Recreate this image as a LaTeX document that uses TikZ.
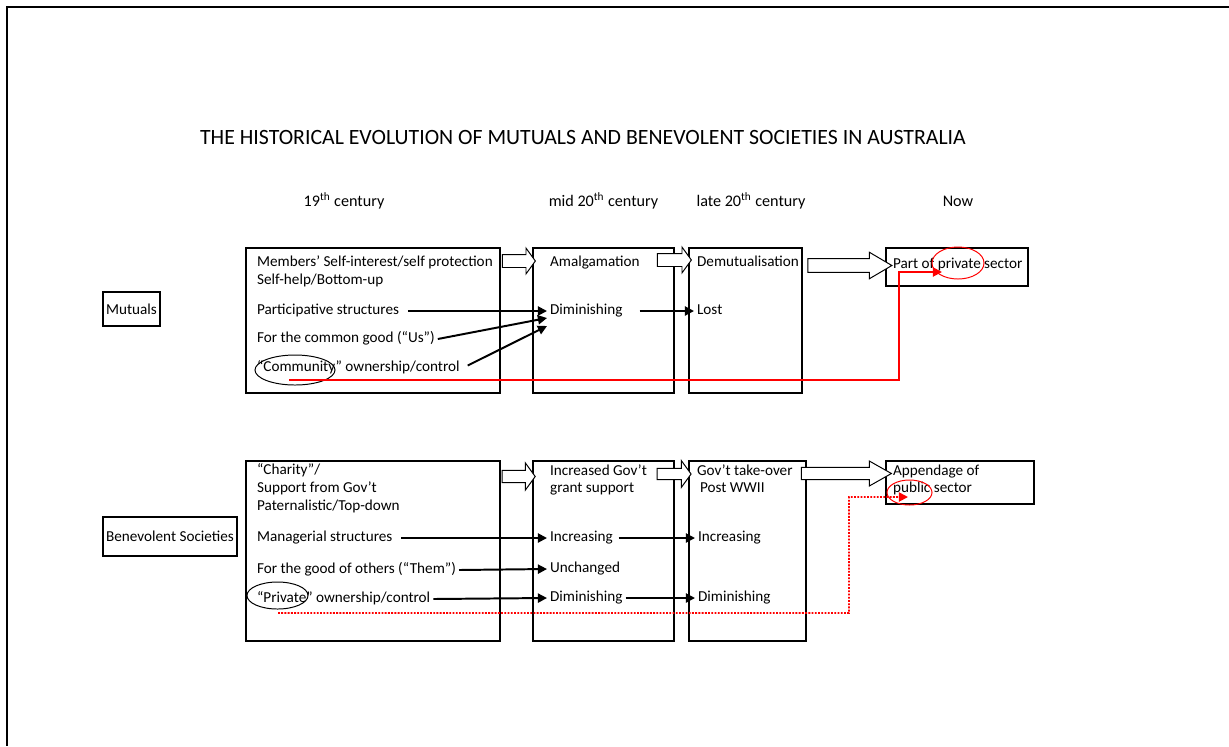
\documentclass[tikz,border=0pt]{standalone}
\usepackage{fontspec}
\setmainfont{Carlito}
\usepackage{xcolor}
\usetikzlibrary{shapes.geometric, shapes.arrows, arrows.meta, positioning, calc}
\definecolor{linkred}{HTML}{FF0000}

\begin{document}
\begin{tikzpicture}[
  x=0.025cm, y=-0.025cm,
  every node/.style={font=\fontsize{10.8}{12.8}\selectfont},
  box/.style={rectangle, draw, line width=0.8pt, inner sep=0pt},
  txt/.style={anchor=west, inner xsep=2pt, inner ysep=0pt,
              text height=1.6ex, text depth=0.5ex},
  hdr/.style={font=\fontsize{11.5}{13}\selectfont},
  blockarrow/.style={single arrow, draw, fill=white, line width=0.7pt,
              inner xsep=0pt, inner ysep=0.15cm, single arrow head extend=0.16cm},
  arrow/.style={-{Triangle[length=6.5pt,width=6.5pt]}, line width=1.4pt},
  ring/.style={ellipse, draw, line width=0.7pt, inner sep=0pt},
  redlink/.style={-{Triangle[length=6.5pt,width=6.5pt]}, draw=linkred, line width=1.3pt},
]
\useasboundingbox (0,0) rectangle (1229,746);
\draw[line width=1.4pt] (1229,7) -- (7,7) -- (7,746);

\node[font=\fontsize{15.5}{18}\selectfont] (title) at (583,137)
  {THE HISTORICAL EVOLUTION OF MUTUALS AND BENEVOLENT SOCIETIES IN AUSTRALIA};

\node[hdr] (H19)   at (344,201) {19\textsuperscript{th} century};
\node[hdr] (Hmid)  at (603.5,201) {mid 20\textsuperscript{th} century};
\node[hdr] (Hlate) at (751,201) {late 20\textsuperscript{th} century};
\node[hdr] (Hnow)  at (958,201) {Now};

% row labels
\node[box, minimum width=1.425cm, minimum height=0.85cm]  (Mut) at (131.5,309) {Mutuals};
\node[box, minimum width=3.35cm,  minimum height=0.975cm] (Ben) at (170,536.5) {Benevolent Societies};

% mutuals boxes
\node[box, minimum width=6.35cm,  minimum height=3.625cm] (M19)   at (373,320.5) {};
\node[box, minimum width=3.525cm, minimum height=3.625cm] (Mmid)  at (603.5,320.5) {};
\node[box, minimum width=2.825cm, minimum height=3.625cm] (Mlate) at (745.5,320.5) {};
\node[box, minimum width=3.55cm,  minimum height=0.95cm]  (Mnow)  at (957,267) {};

% benevolent boxes
\node[box, minimum width=6.35cm,  minimum height=4.5cm]   (B19)   at (373,551) {};
\node[box, minimum width=3.525cm, minimum height=4.5cm]   (Bmid)  at (603.5,551) {};
\node[box, minimum width=2.925cm, minimum height=4.5cm]   (Blate) at (747.5,551) {};
\node[box, minimum width=3.7cm,   minimum height=1.075cm] (Bnow)  at (960,482.5) {};

% hollow arrows between the boxes
\node[blockarrow, single arrow tip angle=108, minimum height=0.825cm] (MA1) at (516.5,261) {};
\node[blockarrow, single arrow tip angle=108, minimum height=0.85cm]  (MA2) at (672,260) {};
\node[blockarrow, single arrow tip angle=61,  minimum height=2.1cm, inner ysep=0.16cm] (MA3) at (844,265.5) {};
\node[blockarrow, single arrow tip angle=108, minimum height=0.825cm, inner ysep=0.14cm, single arrow head extend=0.19cm] (BA1) at (516.5,476.5) {};
\node[blockarrow, single arrow tip angle=108, minimum height=0.85cm,  inner ysep=0.13cm, single arrow head extend=0.19cm] (BA2) at (672,474) {};
\node[blockarrow, single arrow tip angle=59,  minimum height=2.25cm,  inner ysep=0.14cm] (BA3) at (841,473.5) {};

% mutuals texts
\node[txt] (Mself) at (254,263) {Members’ Self-interest/self protection};
\node[txt] (Mhelp) at (254,281) {Self-help/Bottom-up};
\node[txt] (Mpart) at (254,311) {Participative structures};
\node[txt] (Mcom)  at (254,339) {For the common good (“Us”)};
\node[txt] (Mown)  at (254,368) {“Community” ownership/control};
\node[txt] (Mamal) at (547,263) {Amalgamation};
\node[txt] (Mdim)  at (547,311) {Diminishing};
\node[txt] (Mdemut) at (694,263) {Demutualisation};
\node[txt] (Mlost) at (694,311) {Lost};
\node[txt] (Mpriv) at (890,265) {Part of private sector};

% benevolent texts
\node[txt] (Bchar) at (254,471) {“Charity”/};
\node[txt] (Bsupp) at (254,489) {Support from Gov’t};
\node[txt] (Bpat)  at (254,507) {Paternalistic/Top-down};
\node[txt] (Bman)  at (254,538) {Managerial structures};
\node[txt] (Bthem) at (254,570) {For the good of others (“Them”)};
\node[txt] (Bown)  at (254,599) {“Private” ownership/control};
\node[txt] (Bincr) at (547,472) {Increased Gov’t};
\node[txt] (Bgrant) at (547,489) {grant support};
\node[txt] (Binc)  at (547,538) {Increasing};
\node[txt] (Bunch) at (547,569) {Unchanged};
\node[txt] (Bdim)  at (547,598) {Diminishing};
\node[txt] (Btake) at (694,472) {Gov’t take-over};
\node[txt] (Bpost) at (697,489) {Post WWII};
\node[txt] (Binc2) at (695,538) {Increasing};
\node[txt] (Bdim2) at (695,598) {Diminishing};
\node[txt] (Bapp)  at (890,472) {Appendage of};
\node[txt] (Bpub)  at (890,489) {public sector};

% circled words
\node[ring, minimum width=2cm,   minimum height=0.75cm]  (ringC)   at (295,370) {};
\node[ring, minimum width=1.525cm, minimum height=0.675cm] (ringR) at (277.5,595.5) {};
\node[ring, draw=linkred, minimum width=1.3cm,  minimum height=0.8cm]   (ringP)   at (958,263) {};
\node[ring, draw=linkred, minimum width=1.125cm, minimum height=0.625cm] (ringPub) at (909.5,492.5) {};

% black arrows
\draw[arrow, shorten <=4pt] (Mpart.east) -- (Mdim.west);
\draw[arrow] (Mcom.east) -- ($(Mdim.west)+(0,7)$);
\draw[arrow, shorten <=4pt] (Mown.east) -- ($(Mdim.west)+(0,15)$);
\draw[arrow, shorten <=10pt] (Mdim.east) -- (Mlost.west);

\draw[arrow, shorten <=4pt] (Bman.east) -- (Binc.west);
\draw[arrow] (Bthem.east) -- (Bunch.west);
\draw[arrow] (Bown.east) -- (Bdim.west);
\draw[arrow, shorten <=2pt] (Binc.east) -- (Binc2.west);
\draw[arrow] (Bdim.east) -- (Bdim2.west);

% red links
\coordinate (bendT) at (899,272);
\coordinate (bendB) at (849,497);
\draw[redlink] ($(ringC.center)+(-6,10)$) -| (bendT) -- ($(ringP.center)+(-16,9)$);
\draw[redlink, densely dotted] ($(ringR.center)+(0.5,17.5)$) -| (bendB) -- ($(ringPub.center)+(-1.5,4.5)$);
\end{tikzpicture}
\end{document}
